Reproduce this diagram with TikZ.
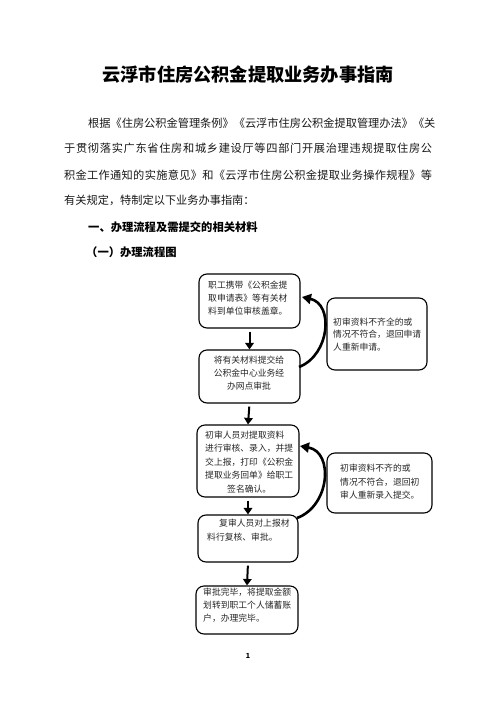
\documentclass[tikz,border=0pt]{standalone}
\usepackage{fontspec}
\setmainfont{Noto Sans CJK SC}
\usetikzlibrary{arrows.meta}
\XeTeXinterchartokenstate=1
\newXeTeXintercharclass\cjkclass
\makeatletter
\count@="3000
\loop \XeTeXcharclass\count@=\cjkclass \ifnum\count@<"303F \advance\count@ 1 \repeat
\count@="4E00
\loop \XeTeXcharclass\count@=\cjkclass \ifnum\count@<"9FFF \advance\count@ 1 \repeat
\count@="FF00
\loop \XeTeXcharclass\count@=\cjkclass \ifnum\count@<"FFEF \advance\count@ 1 \repeat
\makeatother
\XeTeXinterchartoks\cjkclass\cjkclass={\hskip0pt plus 1pt}
\begin{document}
\begin{tikzpicture}[x=1pt,y=-1pt,
  box/.style={draw=black, line width=1.1pt, rounded corners=8pt, inner sep=0pt},
  boxtext/.style={font=\fontsize{8.8}{13}\selectfont, align=left, inner sep=0pt, text=black!85},
  bodytext/.style={font=\fontsize{11.2}{14}\selectfont, anchor=west, inner sep=0pt, text=black!90},
  headtext/.style={font=\fontsize{11.3}{14}\bfseries, anchor=west, inner sep=0pt},
  down/.style={line width=2pt, shorten <=3pt, -{Triangle[length=6.5pt,width=8.5pt]}},
  back/.style={line width=2.6pt, -{Triangle[length=9pt,width=10pt]}},
]
\useasboundingbox (0,0) rectangle (496,702);
\fill[white] (0,0) rectangle (496,702);

% title and body
\node[font=\fontsize{18.2}{20}\bfseries, inner sep=0pt] (title) at (248,75) {云浮市住房公积金提取业务办事指南};
\node[bodytext] (p1) at (88,123) {\makebox[344pt][s]{根据《住房公积金管理条例》《云浮市住房公积金提取管理办法》《关}};
\node[bodytext] (p2) at (64,148) {\makebox[368pt][s]{于贯彻落实广东省住房和城乡建设厅等四部门开展治理违规提取住房公}};
\node[bodytext] (p3) at (64,175) {\makebox[368pt][s]{积金工作通知的实施意见》和《云浮市住房公积金提取业务操作规程》等}};
\node[bodytext] (p4) at (64,200) {有关规定，特制定以下业务办事指南：};
\node[headtext] (h1) at (88,227) {一、办理流程及需提交的相关材料};
\node[headtext] (h2) at (86,252) {（一）办理流程图};

% boxes
\node[box, minimum width=101pt, minimum height=54pt] (b1) at (249.5,301) {};
\node[box, minimum width=101pt, minimum height=53pt] (b2) at (249.5,376.5) {};
\node[box, minimum width=102pt, minimum height=72pt] (b3) at (248,461) {};
\node[box, minimum width=100pt, minimum height=47pt] (b4) at (248,538.5) {};
\node[box, minimum width=102pt, minimum height=48pt] (b5) at (247,610) {};
\node[box, minimum width=100pt, minimum height=72pt] (r1) at (377,334) {};
\node[box, minimum width=105pt, minimum height=60pt] (r2) at (379.5,483) {};

% box texts
\node[boxtext, anchor=west] (t1) at (208,298) {职工携带《公积金提\\取申请表》等有关材\\料到单位审核盖章。};
\node[boxtext, align=center] (t2) at (249,373) {将有关材料提交给\\公积金中心业务经\\办网点审批};
\node[boxtext, anchor=west, font=\fontsize{8.8}{13.5}\selectfont] (t3) at (205,462) {初审人员对提取资料\\进行审核、录入，并提\\交上报，打印《公积金\\提取业务回单》给职工\\\hspace*{22pt}签名确认。};
\node[boxtext, anchor=west, font=\fontsize{8.8}{14}\selectfont] (t4) at (207,530) {\hspace*{12pt}复审人员对上报材\\料行复核、审批。};
\node[boxtext, anchor=west] (t5) at (203,605) {审批完毕，将提取金额\\划转到职工个人储蓄账\\户，办理完毕。};
\node[boxtext, anchor=west, font=\fontsize{8.8}{12.5}\selectfont\addfontfeatures{LetterSpace=5}] (t6) at (333,334.5) {初审资料不齐全的或\\情况不符合，退回申请\\人重新申请。};
\node[boxtext, anchor=west, font=\fontsize{8.8}{13.5}\selectfont\addfontfeatures{LetterSpace=4}] (t7) at (340,482) {初审资料不齐的或\\情况不符合，退回初\\审人重新录入提交。};

% arrows
\draw[down] (b1.south) -- (b2.north);
\draw[down] (b2.south) -- (b3.north);
\draw[down] (b3.south) -- (b4.north);
\draw[down] (b4.south) -- (b5.north);
\coordinate (s1) at (299,367);
\coordinate (e1) at (302,297);
\draw[back] (s1) .. controls (330,355) and (334,304) .. (e1);
\coordinate (s2) at (297,518);
\coordinate (e2) at (300,446);
\draw[back] (s2) .. controls (330,506) and (334,452) .. (e2);

\node[font=\fontsize{7}{8}\bfseries, inner sep=0pt] (pg) at (248,656) {1};
\end{tikzpicture}
\end{document}
